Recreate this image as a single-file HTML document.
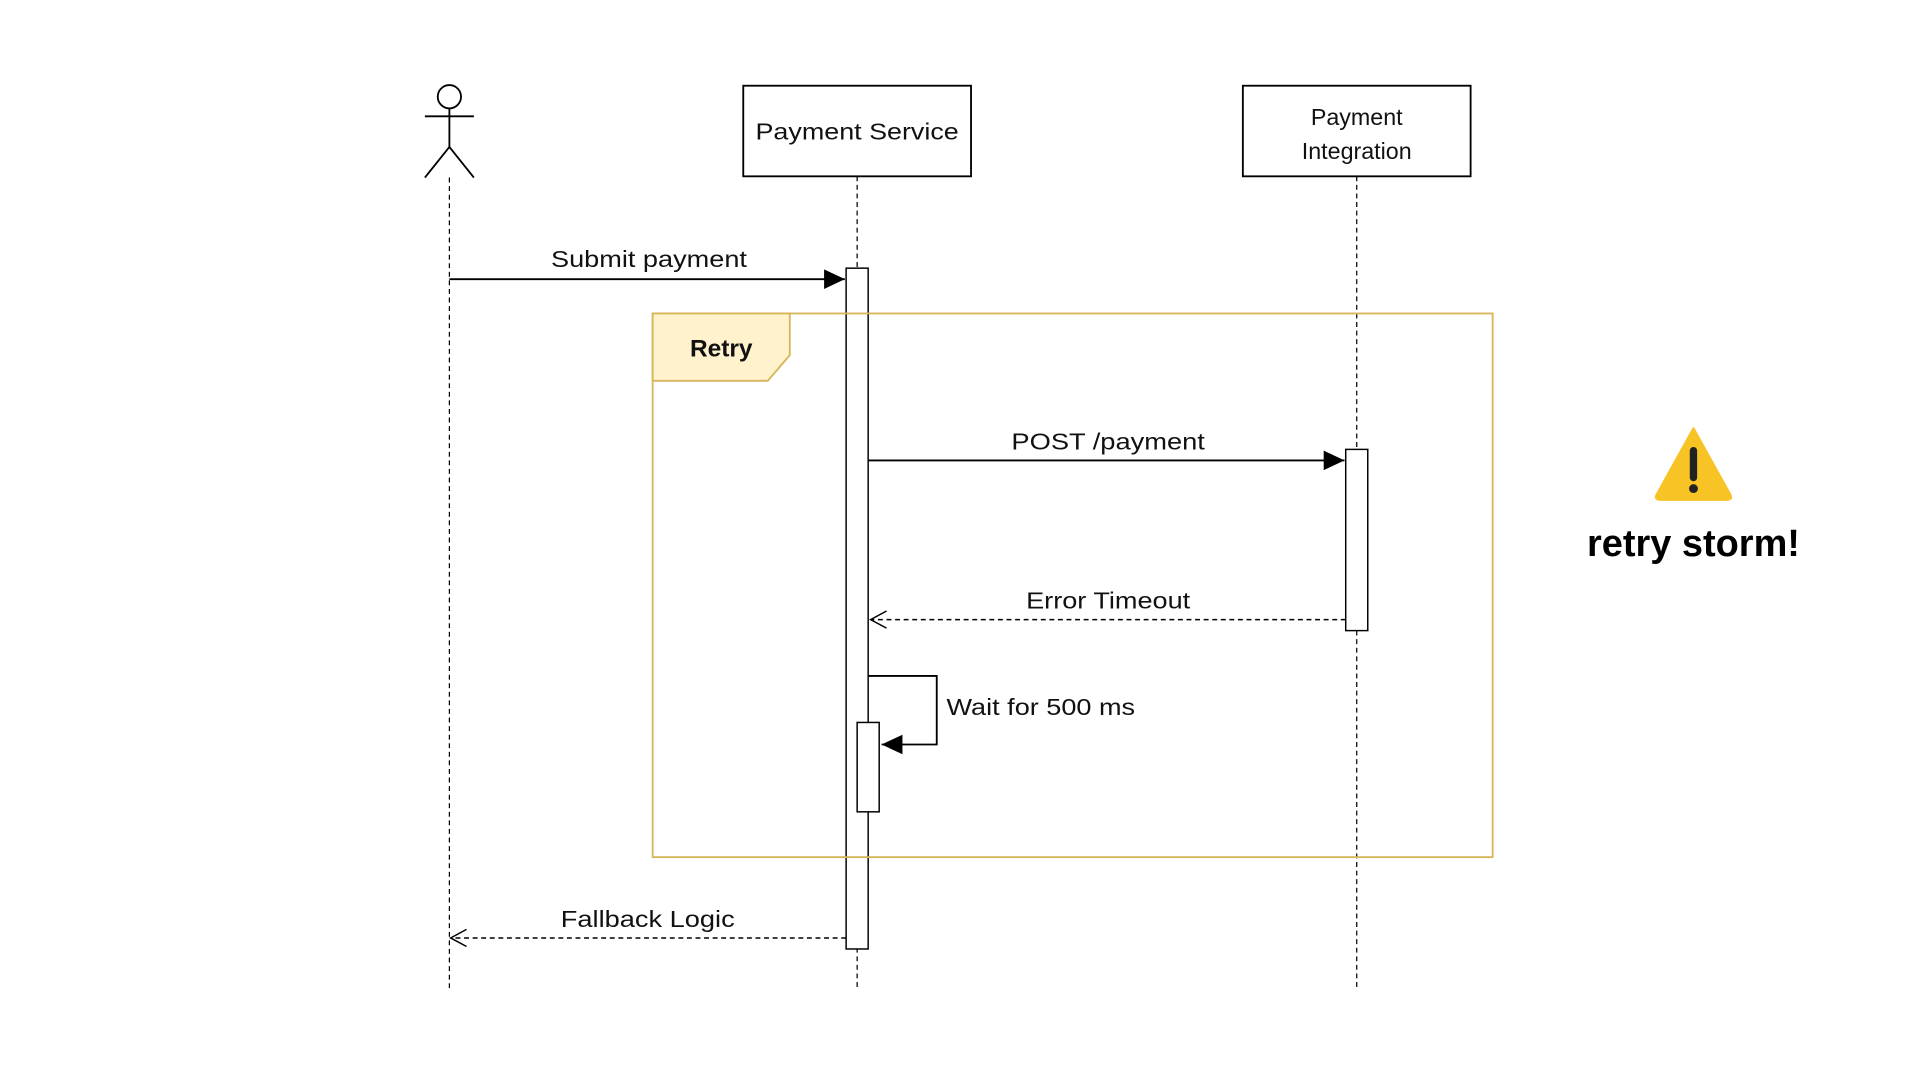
<!DOCTYPE html>
<html><head><meta charset="utf-8"><style>
html,body{margin:0;padding:0;background:#fff;width:1920px;height:1080px;overflow:hidden}
svg{display:block}
text{font-family:"Liberation Sans",sans-serif;fill:#111}
</style></head><body>
<svg width="1920" height="1080" viewBox="0 0 1568 882" xmlns="http://www.w3.org/2000/svg">
<defs>
<marker id="fa" markerWidth="18" markerHeight="16" refX="17" refY="8" orient="auto" markerUnits="userSpaceOnUse"><path d="M0,0 L17,8 L0,16 z" fill="#000"/></marker>
<marker id="oa" markerWidth="16" markerHeight="16" refX="14" refY="8" orient="auto" markerUnits="userSpaceOnUse"><path d="M1,1 L14,8 L1,15" fill="none" stroke="#000" stroke-width="1.2"/></marker>
</defs>
<g stroke="#000" stroke-width="1" stroke-dasharray="4,3" fill="none">
<line x1="367" y1="145" x2="367" y2="808"/>
<line x1="700" y1="144" x2="700" y2="808"/>
<line x1="1108" y1="144" x2="1108" y2="808"/>
</g>
<g stroke="#000" stroke-width="1.5" fill="none">
<circle cx="367" cy="79" r="9.5" fill="#fff"/>
<line x1="367" y1="89" x2="367" y2="120"/>
<line x1="347" y1="95" x2="387" y2="95"/>
<path d="M347,145 L367,120 L387,145"/>
</g>
<rect x="607" y="70" width="186" height="74" fill="#fff" stroke="#000" stroke-width="1.5"/>
<rect x="1015" y="70" width="186" height="74" fill="#fff" stroke="#000" stroke-width="1.5"/>
<text x="700" y="114" font-size="19" text-anchor="middle" textLength="166" lengthAdjust="spacingAndGlyphs">Payment Service</text>
<text x="1108" y="102" font-size="19" text-anchor="middle">Payment</text>
<text x="1108" y="130" font-size="19" text-anchor="middle">Integration</text>
<rect x="691" y="219" width="18" height="556" fill="#fff" stroke="#000" stroke-width="1.2"/>
<rect x="533" y="256" width="686" height="444" fill="none" stroke="#d6b656" stroke-width="1.5"/>
<path d="M533,256 L645,256 L645,290 L627,311 L533,311 z" fill="#fff2cc" stroke="#d6b656" stroke-width="1.5"/>
<text x="589" y="291" font-size="20" font-weight="bold" text-anchor="middle">Retry</text>
<line x1="367" y1="228" x2="690" y2="228" stroke="#000" stroke-width="1.5" marker-end="url(#fa)"/>
<text x="530" y="218" font-size="19" text-anchor="middle" textLength="160" lengthAdjust="spacingAndGlyphs">Submit payment</text>
<rect x="1099" y="367" width="18" height="148" fill="#fff" stroke="#000" stroke-width="1.2"/>
<line x1="709" y1="376" x2="1098" y2="376" stroke="#000" stroke-width="1.5" marker-end="url(#fa)"/>
<text x="905" y="367" font-size="19" text-anchor="middle" textLength="158" lengthAdjust="spacingAndGlyphs">POST /payment</text>
<line x1="1099" y1="506" x2="711" y2="506" stroke="#000" stroke-width="1.2" stroke-dasharray="4,3" marker-end="url(#oa)"/>
<text x="905" y="497" font-size="19" text-anchor="middle" textLength="134" lengthAdjust="spacingAndGlyphs">Error Timeout</text>
<rect x="700" y="590" width="18" height="73" fill="#fff" stroke="#000" stroke-width="1.2"/>
<path d="M709,552 L765,552 L765,608 L720,608" fill="none" stroke="#000" stroke-width="1.5" marker-end="url(#fa)"/>
<text x="773" y="584" font-size="19" textLength="154" lengthAdjust="spacingAndGlyphs">Wait for 500 ms</text>
<line x1="691" y1="766" x2="368" y2="766" stroke="#000" stroke-width="1.2" stroke-dasharray="4,3" marker-end="url(#oa)"/>
<text x="529" y="757" font-size="19" text-anchor="middle" textLength="142" lengthAdjust="spacingAndGlyphs">Fallback Logic</text>
<path d="M1383,350 L1413,404 Q1415,408 1410,408 L1356,408 Q1351,408 1353,404 z" fill="#f7c325" stroke="#f7c325" stroke-width="2" stroke-linejoin="round"/>
<line x1="1383" y1="368" x2="1383" y2="390" stroke="#222" stroke-width="6" stroke-linecap="round"/>
<circle cx="1383" cy="399" r="3.6" fill="#222"/>
<text x="1383" y="454" font-size="31" font-weight="bold" text-anchor="middle" style="fill:#000">retry storm!</text>
</svg>
</body></html>
